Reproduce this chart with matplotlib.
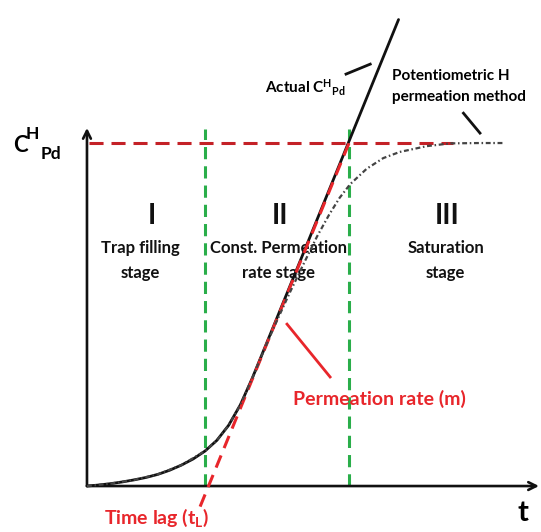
import matplotlib
matplotlib.use("Agg")
import matplotlib.pyplot as plt

plt.rcParams["font.family"] = ["Lato", "DejaVu Sans"]
plt.rcParams["font.weight"] = "bold"
plt.rcParams["mathtext.fontset"] = "custom"
plt.rcParams["mathtext.rm"] = "Lato:bold"
plt.rcParams["mathtext.bf"] = "Lato:bold"
plt.rcParams["mathtext.it"] = "Lato:bold"

# Actual hydrogen concentration in Pd, C(t)
t_actual = [0.0, 0.1, 0.2, 0.3, 0.4, 0.5, 0.6, 0.7, 0.8, 0.9, 1.0,
            1.1, 1.2, 1.3, 1.4, 1.5, 1.6, 2.22, 2.64]
c_actual = [0.000, 0.003, 0.007, 0.012, 0.018, 0.025, 0.034, 0.046, 0.061, 0.079, 0.102,
            0.133, 0.177, 0.237, 0.314, 0.398, 0.482, 1.005, 1.360]

# Concentration seen by the potentiometric H permeation method
t_measured = [0.0, 0.2, 0.4, 0.6, 0.8, 1.0, 1.1, 1.2, 1.3, 1.4, 1.5,
              1.6, 1.72, 1.85, 1.95, 2.05, 2.14, 2.23, 2.37, 2.51, 2.65,
              2.88, 3.08, 3.33, 3.54]
c_measured = [0.000, 0.007, 0.018, 0.034, 0.061, 0.102, 0.133, 0.177, 0.237, 0.314, 0.396,
              0.475, 0.565, 0.658, 0.728, 0.790, 0.840, 0.880, 0.925, 0.956, 0.974,
              0.991, 0.999, 1.000, 1.000]

c_sat = 1.0          # saturation concentration
t_lag = 1.03         # time lag t_L
rate_m = 0.84        # permeation rate m (slope of the linear stage)
stage_bounds = [1.0, 2.22]
stage_numerals = ["I", "II", "III"]
stage_names = [("Trap filling", "stage"),
               ("Const. Permeation", "rate stage"),
               ("Saturation", "stage")]
stage_centers = [0.45, 1.627, 3.04]
numeral_centers = [0.55, 1.636, 3.05]

fig = plt.figure(figsize=(5.41, 5.32), dpi=100)
ax = fig.add_axes([0, 0, 1, 1])
ax.set_xlim(-0.737, 3.847)
ax.set_ylim(-0.134, 1.417)
ax.axis("off")

black = "#111111"
red_dark = "#c42127"
red = "#e8262b"
green = "#2aae4a"

# axes with open arrow heads
arrow_kw = dict(arrowstyle="->", lw=1.9, color=black, mutation_scale=14,
                shrinkA=0, shrinkB=0)
ax.annotate("", xy=(0, 1.044), xytext=(0, 0), arrowprops=arrow_kw)
ax.annotate("", xy=(3.83, 0), xytext=(0, 0), arrowprops=arrow_kw)

# stage boundaries
for tb in stage_bounds:
    ax.plot([tb, tb], [0, 1.04], color=green, lw=2.2, dashes=(4, 2.3), zorder=2)

# saturation level
ax.plot([0.017, 3.10], [c_sat, c_sat], color=red_dark, lw=2.2, dashes=(4.6, 2.6), zorder=3)

# actual concentration
ax.plot(t_actual, c_actual, color=black, lw=2.0, solid_capstyle="round",
        solid_joinstyle="round", zorder=4)

# tangent of the linear stage, crossing the time axis at t_L
c_lo, c_hi = -0.06, c_sat
ax.plot([t_lag + c_lo / rate_m, t_lag + c_hi / rate_m], [c_lo, c_hi],
        color=red, lw=2.2, dashes=(4.3, 2.6), zorder=5)

# measured curve
ax.plot(t_measured, c_measured, color="#444444", lw=1.6,
        dashes=(2.2, 1.2, 0.7, 1.2), zorder=6)

# leader lines
ax.plot([2.195, 2.40], [1.201, 1.230], color=black, lw=2.0, zorder=6)
ax.plot([3.19, 3.33], [1.087, 1.029], color=black, lw=2.0, zorder=6)
ax.plot([1.695, 2.06], [0.472, 0.318], color=red, lw=2.0, zorder=6)

# stage labels
for x, s in zip(numeral_centers, stage_numerals):
    ax.text(x, 0.787, s, ha="center", va="center", fontsize=20, fontweight="bold", color=black)
for x, (l1, l2) in zip(stage_centers, stage_names):
    ax.text(x, 0.694, l1, ha="center", va="center", fontsize=12, fontweight="bold", color=black)
    ax.text(x, 0.621, l2, ha="center", va="center", fontsize=12, fontweight="bold", color=black)

# axis labels
ax.text(-0.568, 0.994, "C", ha="center", va="center", fontsize=16, fontweight="bold")
ax.text(-0.466, 1.025, "H", ha="center", va="center", fontsize=12.5, fontweight="bold")
ax.text(-0.305, 0.968, "Pd", ha="center", va="center", fontsize=12.5, fontweight="bold")
ax.text(3.69, -0.079, "t", ha="center", va="center", fontsize=21, fontweight="bold")

# annotations
ax.text(2.19, 1.16, r"Actual C$^{H}{}_{Pd}$", ha="right", va="center",
        fontsize=11, fontweight="bold")
ax.text(2.585, 1.195, "Potentiometric H", ha="left", va="center",
        fontsize=11, fontweight="bold")
ax.text(2.585, 1.134, "permeation method", ha="left", va="center",
        fontsize=11, fontweight="bold")
ax.text(2.48, 0.254, "Permeation rate (m)", ha="center", va="center",
        fontsize=14, fontweight="bold", color=red)
ax.text(0.59, -0.093, r"Time lag (t$_{L}$)", ha="center", va="center",
        fontsize=14, fontweight="bold", color=red)

fig.savefig("out.png", dpi=100)
